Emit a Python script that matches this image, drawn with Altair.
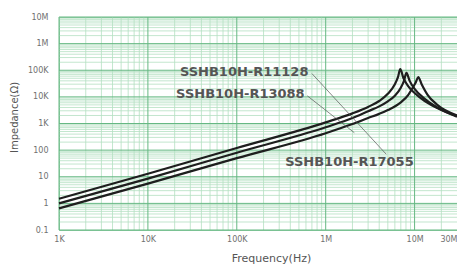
import altair as alt
import pandas as pd

# ---- data ----
names = ["SSHB10H-R11128", "SSHB10H-R13088", "SSHB10H-R17055"]

freq_a = [1e3, 1e4, 1e5, 1e6, 2e6, 3e6, 4e6, 5e6, 6e6, 6.5e6, 6.9e6, 7.5e6, 8.5e6, 1e7, 1.3e7, 1.8e7, 3e7]
imp_a = [1.5, 13, 120, 1100, 2400, 4200, 7000, 13000, 30000, 55000, 110000, 50000, 25000, 14000, 7000, 3800, 1800]

freq_b = [1e3, 1e4, 1e5, 1e6, 2e6, 3e6, 4e6, 5e6, 6e6, 7e6, 7.6e6, 8.1e6, 8.8e6, 1e7, 1.3e7, 1.8e7, 3e7]
imp_b = [1.0, 8.5, 80, 720, 1600, 2900, 4400, 6800, 11000, 22000, 40000, 80000, 40000, 20000, 8500, 4000, 1900]

freq_c = [1e3, 1e4, 1e5, 1e6, 2e6, 3e6, 4e6, 5e6, 7e6, 8.5e6, 9.5e6, 1.03e7, 1.1e7, 1.2e7, 1.4e7, 1.8e7, 3e7]
imp_c = [0.65, 5.5, 50, 430, 950, 1600, 2300, 3200, 6200, 12000, 22000, 35000, 55000, 30000, 12000, 5000, 2000]

x_ticks = [1e3, 1e4, 1e5, 1e6, 1e7, 3e7]
x_tick_labels = ["1K", "10K", "100K", "1M", "10M", "30M"]
y_ticks = [0.1, 1, 10, 100, 1e3, 1e4, 1e5, 1e6, 1e7]
y_tick_labels = ["0.1", "1", "10", "100", "1K", "10K", "100K", "1M", "10M"]

# label positions (data coordinates) and leader lines
label_f = [6.4e5, 5.8e5, 3.5e5]
label_z = [8.4e4, 1.26e4, 35]
label_align = ["right", "right", "left"]
leader_f1 = [7.0e5, 6.2e5]
leader_z1 = [7.5e4, 1.1e4]
leader_f2 = [4.8e6, 2.1e6]
leader_z2 = [70, 450]

# gridline positions (decades and 2..9 subdivisions)
major_x = [1e3, 1e4, 1e5, 1e6, 1e7]
minor_x = [m * d for d in [1e3, 1e4, 1e5, 1e6, 1e7] for m in range(2, 10) if m * d < 3e7]
major_y = [0.1, 1, 10, 100, 1e3, 1e4, 1e5, 1e6, 1e7]
minor_y = [m * d for d in [0.1, 1, 10, 100, 1e3, 1e4, 1e5, 1e6] for m in range(2, 10)]

rows = []
for n, fs, zs in [(names[0], freq_a, imp_a), (names[1], freq_b, imp_b), (names[2], freq_c, imp_c)]:
    for f, z in zip(fs, zs):
        rows.append({"name": n, "f": f, "z": z})
df = pd.DataFrame(rows)

xs = alt.Scale(type="log", domain=[1e3, 3e7], nice=False)
ys = alt.Scale(type="log", domain=[0.1, 1e7], nice=False)


def lbl_expr(vals, labs):
    e = "''"
    for v, l in zip(vals, labs):
        e = f"(abs(datum.value - {v}) < {v}*1e-6) ? '{l}' : ({e})"
    return e


x_axis = alt.Axis(
    values=x_ticks, labelExpr=lbl_expr(x_ticks, x_tick_labels), grid=False, ticks=False,
    tickSize=0, domain=False, labelPadding=5, labelFontSize=8, labelColor="#707070",
    labelFont="DejaVu Sans", title="Frequency(Hz)", titleFont="DejaVu Sans",
    titleFontSize=11, titleFontWeight="normal", titleColor="#555555",
    titleX=212, titleY=22, titleBaseline="top", labelFlush=False,
    labelAlign={"condition": {"test": "datum.value >= 2e7", "value": "right"}, "value": "center"})
y_axis = alt.Axis(
    values=y_ticks, labelExpr=lbl_expr(y_ticks, y_tick_labels), grid=False, ticks=False,
    tickSize=0, domain=False, labelPadding=11, labelFontSize=8, labelColor="#707070",
    labelFont="DejaVu Sans", title="Impedance(Ω)", titleFont="DejaVu Sans",
    titleFontSize=10, titleFontWeight="normal", titleColor="#555555",
    titleX=-45, titleY=100, titleBaseline="middle", labelFlush=False)

X = lambda fld="f": alt.X(f"{fld}:Q", scale=xs, axis=x_axis)
Y = lambda fld="z": alt.Y(f"{fld}:Q", scale=ys, axis=y_axis)

minor_col = "#b4e0c1"
major_col = "#66b883"

vmin = alt.Chart(pd.DataFrame({"f": minor_x})).mark_rule(color=minor_col, strokeWidth=0.8).encode(x=X())
vmaj = alt.Chart(pd.DataFrame({"f": major_x})).mark_rule(color=major_col, strokeWidth=1).encode(x=X())
hmin = alt.Chart(pd.DataFrame({"z": minor_y})).mark_rule(color=minor_col, strokeWidth=0.8).encode(y=Y())
hmaj = alt.Chart(pd.DataFrame({"z": major_y})).mark_rule(color=major_col, strokeWidth=1).encode(y=Y())

lines = alt.Chart(df).mark_line(color="#1e1e1e", strokeWidth=2.2, interpolate="monotone").encode(
    x=X(), y=Y(), detail="name:N")

lab_df = pd.DataFrame({"name": names, "f": label_f, "z": label_z})
texts = []
for i in range(3):
    texts.append(alt.Chart(lab_df.iloc[[i]]).mark_text(
        align=label_align[i], baseline="middle", font="DejaVu Sans", fontSize=13,
        fontWeight="bold", color="#555555").encode(x=X(), y=Y(), text="name:N"))

lead_df = pd.DataFrame({"f": leader_f1, "z": leader_z1, "f2": leader_f2, "z2": leader_z2})
leaders = alt.Chart(lead_df).mark_rule(color="#555555", strokeWidth=0.7).encode(
    x=X(), y=Y(), x2="f2:Q", y2="z2:Q")

chart = alt.layer(vmin, hmin, vmaj, hmaj, lines, leaders, *texts).properties(
    width=398, height=213, autosize=alt.AutoSizeParams(type="none"),
    padding={"left": 51, "top": 9, "right": 0, "bottom": 40},
    background="white",
).configure_view(stroke="#8fcca3", strokeWidth=1)

chart.save("out.html", embed_options={"renderer": "svg", "actions": False})
